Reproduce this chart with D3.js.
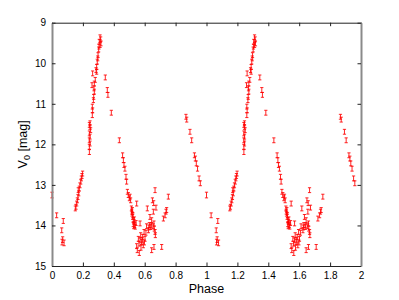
<!DOCTYPE html>
<html><head><meta charset="utf-8">
<script src="https://cdn.jsdelivr.net/npm/d3@7"></script>
<style>body{margin:0;background:#fff}svg{display:block}text{font-family:"Liberation Sans",Arial,sans-serif;fill:#000}</style>
</head><body><svg id="c" width="399" height="300"></svg>
<script>
const phase = [0.000,0.030,0.063,0.073,0.069,0.078,0.065,
0.151,0.155,0.160,0.164,0.168,0.173,0.170,0.177,0.181,0.186,0.190,0.194,0.198,
0.242,0.242,0.246,0.242,0.246,0.242,0.250,0.246,0.242,0.246,0.261,0.263,0.261,0.268,0.270,0.274,0.272,0.259,0.274,0.280,0.263,0.289,0.285,0.289,0.293,0.296,0.298,0.302,0.304,0.311,0.317,0.306,0.315,0.311,
0.345,0.358,0.362,0.384,0.436,0.457,0.462,0.466,0.472,0.479,0.483,0.488,0.494,0.501,0.505,0.509,0.514,0.516,0.518,0.522,0.526,0.531,0.526,0.535,0.539,0.544,0.548,0.529,0.533,0.520,0.524,
0.548,0.552,0.565,0.559,0.570,0.574,0.580,0.587,0.591,0.596,0.602,0.570,0.608,0.617,0.624,0.630,0.634,0.639,0.645,0.650,0.656,0.660,0.662,0.667,0.669,0.673,0.660,0.645,0.667,0.710,0.721,0.732,0.738,0.742,0.753,
0.563,0.585,0.576,0.598,0.612,0.627,0.643,0.655,0.658,
0.867,0.872,0.893,0.904,0.922,0.928,0.934,0.942,0.952,0.960];
const mag = [13.25,13.75,14.12,13.89,14.35,14.43,14.41,
13.58,13.54,13.46,13.38,13.30,13.21,13.13,13.09,13.01,12.92,12.84,12.78,12.72,
12.19,12.06,11.98,11.90,11.81,11.73,11.65,11.57,11.52,11.48,11.28,11.16,11.07,10.91,10.83,10.70,10.62,10.54,10.50,10.41,10.25,10.21,10.17,10.09,9.96,9.88,9.80,9.66,9.59,9.55,9.51,9.47,9.41,9.36,
10.35,10.66,10.78,11.22,11.90,12.27,12.39,12.51,12.60,12.80,12.92,13.17,13.25,13.33,13.29,13.38,13.58,13.66,13.71,13.79,13.87,13.91,13.97,13.99,14.03,13.94,13.46,14.02,13.85,13.62,13.75,
14.51,14.61,14.68,14.33,14.37,14.24,14.41,14.28,14.49,14.16,14.33,13.95,14.18,13.58,14.12,13.99,13.79,14.04,13.87,13.38,13.66,13.95,14.08,14.16,14.24,13.56,14.53,14.61,13.13,14.53,13.83,13.75,13.66,13.62,13.29,
14.45,14.35,14.55,14.42,14.02,14.05,14.00,14.02,13.45,
11.32,11.39,11.69,11.90,12.27,12.35,12.47,12.60,12.84,12.96];
const err = phase.map((p,i)=>[0,4,5,6].includes(i)||i>=150?0.07:0.06);
const xTicks = [0,0.2,0.4,0.6,0.8,1,1.2,1.4,1.6,1.8,2];
const yTicks = [9,10,11,12,13,14,15];
const xLabel = "Phase";

const svg = d3.select("#c");
const L=52, R=361, T=22.7, B=266;
const x = d3.scaleLinear().domain([0,2]).range([L,R]);
const y = d3.scaleLinear().domain([9,15]).range([T,B]);

const pts = [];
phase.forEach((p,i)=>{ [0,1].forEach(k=>pts.push({p:p+k,m:mag[i],e:err[i]})); });

const g = svg.append("g").attr("stroke","#ff0000").attr("stroke-width",1).attr("fill","none").attr("stroke-opacity",0.85);
pts.forEach(d=>{
  const cx = x(d.p), y1 = y(d.m-d.e), y2 = y(d.m+d.e);
  g.append("line").attr("x1",cx).attr("x2",cx).attr("y1",y1).attr("y2",y2);
  g.append("line").attr("x1",cx-1.6).attr("x2",cx+1.6).attr("y1",y1).attr("y2",y1);
  g.append("line").attr("x1",cx-1.6).attr("x2",cx+1.6).attr("y1",y2).attr("y2",y2);
});

// axes
const tl = 3.5;
const xb = svg.append("g").attr("transform",`translate(0,${B})`).call(d3.axisBottom(x).tickValues(xTicks).tickSizeInner(-tl).tickSizeOuter(0).tickPadding(6).tickFormat(d3.format("~g")));
const xt = svg.append("g").attr("transform",`translate(0,${T})`).call(d3.axisTop(x).tickValues(xTicks).tickSizeInner(-tl).tickSizeOuter(0).tickFormat(""));
const yl = svg.append("g").attr("transform",`translate(${L},0)`).call(d3.axisLeft(y).tickValues(yTicks).tickSizeInner(-tl).tickSizeOuter(0).tickPadding(6).tickFormat(d3.format("d")));
const yr = svg.append("g").attr("transform",`translate(${R},0)`).call(d3.axisRight(y).tickValues(yTicks).tickSizeInner(-tl).tickSizeOuter(0).tickFormat(""));
[xb,xt,yl,yr].forEach(a=>{a.selectAll("text").attr("font-size",10).attr("font-family","Liberation Sans, Arial, sans-serif").attr("fill","#000");a.selectAll(".tick line").attr("stroke","#222");});
xb.select(".domain").attr("stroke","#222");
xt.select(".domain").attr("stroke","#222");
yl.select(".domain").attr("stroke","#8a8a8a").attr("stroke-width",2);
yr.select(".domain").attr("stroke","#8a8a8a").attr("stroke-width",2);

svg.append("text").attr("x",(L+R)/2).attr("y",293).attr("text-anchor","middle").attr("font-size",12.5).text(xLabel);
const yt = svg.append("text").attr("transform",`translate(27,${(T+B)/2}) rotate(-90)`).attr("text-anchor","middle").attr("font-size",12.5);
yt.append("tspan").text("V");
yt.append("tspan").attr("font-size",9).attr("dy",3).text("0");
yt.append("tspan").attr("dy",-3).text(" [mag]");
</script></body></html>
